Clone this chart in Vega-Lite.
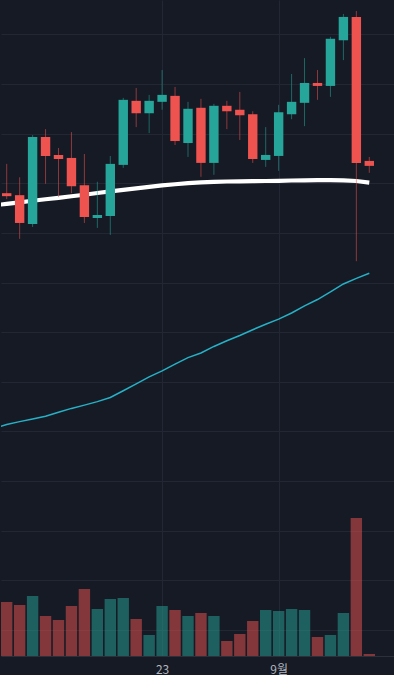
{
  "$schema": "https://vega.github.io/schema/vega-lite/v6.json",
  "width": 394,
  "height": 656,
  "padding": 0,
  "autosize": {"type": "pad"},
  "background": "#161a25",
  "config": {
    "view": {"stroke": null},
    "axis": {"gridColor": "#232733", "gridWidth": 1}
  },
  "datasets": {
    "candles": [
      {"i": 1, "o": 2180, "h": 2239, "l": 2168, "c": 2174, "vol": 5400, "dir": "down"},
      {"i": 2, "o": 2176, "h": 2212, "l": 2088, "c": 2120, "vol": 5100, "dir": "down"},
      {"i": 3, "o": 2118, "h": 2297, "l": 2112, "c": 2293, "vol": 6000, "dir": "up"},
      {"i": 4, "o": 2293, "h": 2309, "l": 2199, "c": 2255, "vol": 4000, "dir": "down"},
      {"i": 5, "o": 2257, "h": 2271, "l": 2172, "c": 2249, "vol": 3600, "dir": "down"},
      {"i": 6, "o": 2251, "h": 2303, "l": 2180, "c": 2194, "vol": 5000, "dir": "down"},
      {"i": 7, "o": 2196, "h": 2259, "l": 2120, "c": 2132, "vol": 6700, "dir": "down"},
      {"i": 8, "o": 2130, "h": 2203, "l": 2110, "c": 2136, "vol": 4700, "dir": "up"},
      {"i": 9, "o": 2134, "h": 2255, "l": 2096, "c": 2239, "vol": 5700, "dir": "up"},
      {"i": 10, "o": 2237, "h": 2372, "l": 2231, "c": 2368, "vol": 5800, "dir": "up"},
      {"i": 11, "o": 2366, "h": 2392, "l": 2313, "c": 2341, "vol": 3700, "dir": "down"},
      {"i": 12, "o": 2341, "h": 2378, "l": 2301, "c": 2366, "vol": 2100, "dir": "up"},
      {"i": 13, "o": 2364, "h": 2428, "l": 2348, "c": 2378, "vol": 5000, "dir": "up"},
      {"i": 14, "o": 2376, "h": 2394, "l": 2277, "c": 2285, "vol": 4600, "dir": "down"},
      {"i": 15, "o": 2281, "h": 2364, "l": 2253, "c": 2350, "vol": 4000, "dir": "up"},
      {"i": 16, "o": 2352, "h": 2370, "l": 2213, "c": 2241, "vol": 4300, "dir": "down"},
      {"i": 17, "o": 2241, "h": 2360, "l": 2217, "c": 2356, "vol": 4000, "dir": "up"},
      {"i": 18, "o": 2356, "h": 2366, "l": 2309, "c": 2345, "vol": 1500, "dir": "down"},
      {"i": 19, "o": 2348, "h": 2384, "l": 2287, "c": 2337, "vol": 2200, "dir": "down"},
      {"i": 20, "o": 2339, "h": 2345, "l": 2241, "c": 2249, "vol": 3500, "dir": "down"},
      {"i": 21, "o": 2247, "h": 2313, "l": 2233, "c": 2257, "vol": 4600, "dir": "up"},
      {"i": 22, "o": 2255, "h": 2358, "l": 2225, "c": 2343, "vol": 4500, "dir": "up"},
      {"i": 23, "o": 2339, "h": 2420, "l": 2329, "c": 2364, "vol": 4700, "dir": "up"},
      {"i": 24, "o": 2362, "h": 2452, "l": 2315, "c": 2402, "vol": 4600, "dir": "up"},
      {"i": 25, "o": 2402, "h": 2428, "l": 2368, "c": 2396, "vol": 1900, "dir": "down"},
      {"i": 26, "o": 2396, "h": 2495, "l": 2374, "c": 2491, "vol": 2100, "dir": "up"},
      {"i": 27, "o": 2488, "h": 2541, "l": 2448, "c": 2535, "vol": 4300, "dir": "up"},
      {"i": 28, "o": 2535, "h": 2547, "l": 2043, "c": 2241, "vol": 13800, "dir": "down"},
      {"i": 29, "o": 2245, "h": 2253, "l": 2221, "c": 2235, "vol": 200, "dir": "down"}
    ],
    "ma": [
      {"i": 0, "ma_short": 2155.5, "ma_long": 1705.8},
      {"i": 1, "ma_short": 2158.5, "ma_long": 1714.1},
      {"i": 2, "ma_short": 2161.6, "ma_long": 1719.9},
      {"i": 3, "ma_short": 2164.8, "ma_long": 1725.1},
      {"i": 4, "ma_short": 2167.8, "ma_long": 1730.8},
      {"i": 5, "ma_short": 2170.6, "ma_long": 1738.8},
      {"i": 6, "ma_short": 2173.9, "ma_long": 1746.5},
      {"i": 7, "ma_short": 2176.9, "ma_long": 1753.1},
      {"i": 8, "ma_short": 2180.3, "ma_long": 1760.2},
      {"i": 9, "ma_short": 2183.5, "ma_long": 1768.4},
      {"i": 10, "ma_short": 2186.7, "ma_long": 1782.1},
      {"i": 11, "ma_short": 2189.8, "ma_long": 1796.0},
      {"i": 12, "ma_short": 2192.8, "ma_long": 1810.1},
      {"i": 13, "ma_short": 2195.6, "ma_long": 1822.0},
      {"i": 14, "ma_short": 2198.0, "ma_long": 1835.7},
      {"i": 15, "ma_short": 2200.2, "ma_long": 1848.8},
      {"i": 16, "ma_short": 2201.8, "ma_long": 1858.1},
      {"i": 17, "ma_short": 2202.9, "ma_long": 1871.3},
      {"i": 18, "ma_short": 2203.5, "ma_long": 1882.8},
      {"i": 19, "ma_short": 2203.9, "ma_long": 1893.3},
      {"i": 20, "ma_short": 2204.1, "ma_long": 1905.0},
      {"i": 21, "ma_short": 2204.5, "ma_long": 1916.1},
      {"i": 22, "ma_short": 2204.9, "ma_long": 1926.3},
      {"i": 23, "ma_short": 2205.5, "ma_long": 1938.6},
      {"i": 24, "ma_short": 2205.9, "ma_long": 1952.9},
      {"i": 25, "ma_short": 2206.1, "ma_long": 1965.8},
      {"i": 26, "ma_short": 2206.1, "ma_long": 1981.1},
      {"i": 27, "ma_short": 2205.9, "ma_long": 1997.2},
      {"i": 28, "ma_short": 2204.5, "ma_long": 2008.3},
      {"i": 29, "ma_short": 2201.2, "ma_long": 2018.8}
    ],
    "levels": [
      {"kind": "avg", "price": 2391},
      {"kind": "last", "price": 2237}
    ]
  },
  "encoding": {
    "x": {
      "field": "i",
      "type": "quantitative",
      "scale": {"domain": [0.56, 30.985], "nice": false, "zero": false, "padding": 0},
      "axis": {
        "values": [13, 22],
        "labelExpr": "datum.value == 13 ? '23' : '9월'",
        "title": null,
        "grid": true,
        "gridColor": "#232733",
        "ticks": false,
        "domain": true,
        "domainColor": "#2c303b",
        "labelColor": "#b2b5be",
        "labelFont": "Noto Sans CJK KR",
        "labelFontSize": 12,
        "labelPadding": 8,
        "labelFlush": false
      }
    }
  },
  "layer": [
    {
      "data": {"name": "candles"},
      "mark": {"type": "bar", "width": 11.4, "opacity": 0.5},
      "encoding": {
        "y": {"field": "vol", "type": "quantitative", "scale": {"domain": [0, 65600], "nice": false}, "axis": null},
        "color": {"field": "dir", "type": "nominal", "scale": {"domain": ["up", "down"], "range": ["#26a69a", "#ef5350"]}, "legend": null}
      }
    },
    {
      "layer": [
        {
          "data": {"name": "ma"},
          "mark": {"type": "line", "color": "#26b1c6", "strokeWidth": 1.5, "clip": true},
          "encoding": {
            "y": {"field": "ma_long", "type": "quantitative", "scale": {"domain": [1247.8, 2569.1], "nice": false, "zero": false},
              "axis": {"values": [1300, 1400, 1500, 1600, 1700, 1800, 1900, 2000, 2100, 2200, 2300, 2400, 2500], "labels": false, "ticks": false, "domain": false, "title": null, "grid": true, "gridColor": "#232733", "minExtent": 0, "maxExtent": 0}}
          }
        },
        {
          "data": {"name": "ma"},
          "mark": {"type": "line", "color": "#ffffff", "strokeWidth": 4.2, "clip": true, "strokeCap": "butt"},
          "encoding": {
            "y": {"field": "ma_short", "type": "quantitative", "scale": {"domain": [1247.8, 2569.1], "nice": false, "zero": false},
              "axis": {"values": [1300, 1400, 1500, 1600, 1700, 1800, 1900, 2000, 2100, 2200, 2300, 2400, 2500], "labels": false, "ticks": false, "domain": false, "title": null, "grid": true, "gridColor": "#232733", "minExtent": 0, "maxExtent": 0}}
          }
        },
        {
          "data": {"name": "candles"},
          "mark": {"type": "rule", "strokeWidth": 1, "opacity": 0.55},
          "encoding": {
            "y": {"field": "l", "type": "quantitative", "scale": {"domain": [1247.8, 2569.1], "nice": false, "zero": false},
              "axis": {"values": [1300, 1400, 1500, 1600, 1700, 1800, 1900, 2000, 2100, 2200, 2300, 2400, 2500], "labels": false, "ticks": false, "domain": false, "title": null, "grid": true, "gridColor": "#232733", "minExtent": 0, "maxExtent": 0}},
            "y2": {"field": "h"},
            "color": {"field": "dir", "type": "nominal", "scale": {"domain": ["up", "down"], "range": ["#26a69a", "#ef5350"]}, "legend": null}
          }
        },
        {
          "data": {"name": "candles"},
          "mark": {"type": "bar", "width": 9.4},
          "encoding": {
            "y": {"field": "o", "type": "quantitative", "scale": {"domain": [1247.8, 2569.1], "nice": false, "zero": false},
              "axis": {"values": [1300, 1400, 1500, 1600, 1700, 1800, 1900, 2000, 2100, 2200, 2300, 2400, 2500], "labels": false, "ticks": false, "domain": false, "title": null, "grid": true, "gridColor": "#232733", "minExtent": 0, "maxExtent": 0}},
            "y2": {"field": "c"},
            "color": {"field": "dir", "type": "nominal", "scale": {"domain": ["up", "down"], "range": ["#26a69a", "#ef5350"]}, "legend": null}
          }
        },
        {
          "data": {"name": "levels"},
          "transform": [{"filter": "datum.kind == 'avg'"}],
          "mark": {"type": "rule", "color": "#6f8c93", "strokeWidth": 1, "strokeDash": [6, 5]},
          "encoding": {
            "y": {"field": "price", "type": "quantitative", "scale": {"domain": [1247.8, 2569.1], "nice": false, "zero": false},
              "axis": {"values": [1300, 1400, 1500, 1600, 1700, 1800, 1900, 2000, 2100, 2200, 2300, 2400, 2500], "labels": false, "ticks": false, "domain": false, "title": null, "grid": true, "gridColor": "#232733", "minExtent": 0, "maxExtent": 0}}
          }
        },
        {
          "data": {"name": "levels"},
          "transform": [{"filter": "datum.kind == 'last'"}],
          "mark": {"type": "rule", "color": "#ef5350", "opacity": 0.7, "strokeWidth": 1, "strokeDash": [2, 2]},
          "encoding": {
            "y": {"field": "price", "type": "quantitative", "scale": {"domain": [1247.8, 2569.1], "nice": false, "zero": false},
              "axis": {"values": [1300, 1400, 1500, 1600, 1700, 1800, 1900, 2000, 2100, 2200, 2300, 2400, 2500], "labels": false, "ticks": false, "domain": false, "title": null, "grid": true, "gridColor": "#232733", "minExtent": 0, "maxExtent": 0}}
          }
        }
      ]
    }
  ],
  "resolve": {"scale": {"y": "independent", "color": "shared"}}
}
